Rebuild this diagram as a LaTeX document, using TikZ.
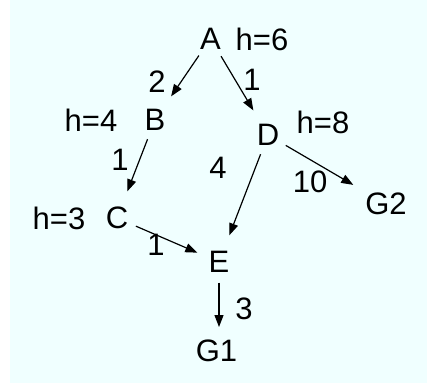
\documentclass[tikz,border=0pt]{standalone}
\usepackage{xcolor}
\usepackage{fontspec}
\setmainfont{Liberation Sans}
\usetikzlibrary{arrows.meta}
\definecolor{paneazure}{HTML}{F0FFFF}
\definecolor{linkblack}{HTML}{000000}

\begin{document}
\begin{tikzpicture}[x=1pt, y=-1pt, line width=1.2pt, >={Triangle[length=12pt,width=9pt]},
  city/.style={circle, minimum size=40pt, inner sep=0pt, font=\fontsize{31}{35}\selectfont},
  tag/.style={inner sep=0pt, font=\fontsize{31}{35}\selectfont},
  link/.style={linkblack, ->, shorten <=0pt, shorten >=8pt}]
  \useasboundingbox (0,0) rectangle (427,384);
  \fill[paneazure] (10,0) rectangle (427,383);

  \node[city] (A) at (210.5,38.5) {A};
  \node[city] (B) at (155,120) {B};
  \node[city] (C) at (117,218) {C};
  \node[city] (D) at (268,135) {D};
  \node[city] (E) at (219,262) {E};
  \node[city] (G1) at (216.5,351) {G1};
  \node[city] (G2) at (386,204) {G2};

  \node[tag] (hA) at (262,39) {h=6};
  \node[tag] (hB) at (91,120) {h=4};
  \node[tag] (hC) at (59,218) {h=3};
  \node[tag] (hD) at (323,122) {h=8};

  \draw[link] (A) -- (B);
  \draw[link] (A) -- (D);
  \draw[link] (B) -- (C);
  \draw[link] (D) -- (E);
  \draw[link, shorten >=14pt] (D) -- (G2);
  \draw[link, shorten >=3pt] (C) -- (E);
  \draw[link, shorten >=24pt] (E) -- (E |- G1);

  \node[tag] (wAB) at (157,82) {2};
  \node[tag] (wAD) at (252,80) {1};
  \node[tag] (wBC) at (120,160) {1};
  \node[tag] (wDE) at (218,168) {4};
  \node[tag] (wDG) at (310,182) {10};
  \node[tag] (wCE) at (156,245) {1};
  \node[tag] (wEG) at (244,309) {3};
\end{tikzpicture}
\end{document}
